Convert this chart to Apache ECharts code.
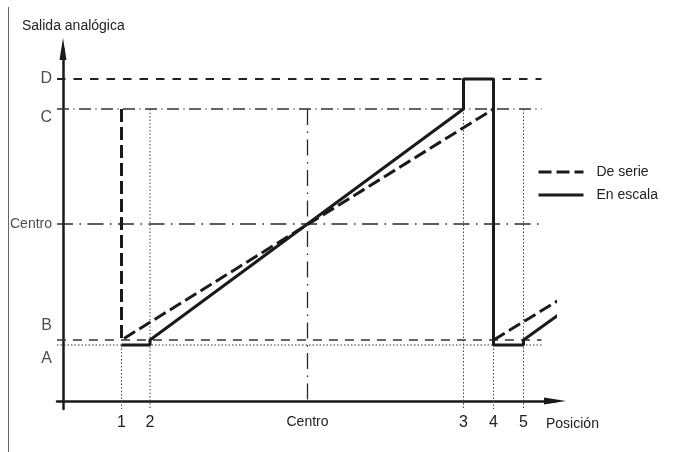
<!DOCTYPE html>
<html>
<head>
<meta charset="utf-8">
<script src="https://cdn.jsdelivr.net/npm/echarts@6/dist/echarts.min.js"></script>
<style>
html, body { margin: 0; padding: 0; background: #ffffff; }
#chart { width: 682px; height: 452px; }
</style>
</head>
<body>
<div id="chart"></div>
<script>
// ---- data ----
const positionNames = ['1', '2', 'Centro', '3', '4', '5'];
const positionValues = [1.95, 2.9, 8.15, 13.35, 14.35, 15.35];
const guideTops = [5.6, 29.2, 29.2, 29.2, 5.6, 29.2];
const levelNames = ['A', 'B', 'Centro', 'C', 'D'];
const levelValues = [5.6, 6.1, 17.7, 29.2, 32.2];
const deSerieX = [1.95, 1.95, 14.35, 14.35, 16.7];
const deSerieY = [29.2, 6.1, 29.2, 6.1, 10.4];
const enEscalaX = [1.95, 2.9, 2.9, 13.35, 13.35, 14.35, 14.35, 15.35, 15.35, 16.65];
const enEscalaY = [5.6, 5.6, 6.1, 29.2, 32.2, 32.2, 5.6, 5.6, 6.1, 8.9];
const levelLineX = [-0.2, 15.95];
const guideBottom = -0.8;
const centroBottom = -0.2;

// ---- styles ----
const FONT = 'Liberation Sans, Arial, Helvetica, sans-serif';
const INK = '#1a1a1a';
const TEXT = '#222222';
const levelStyles = {
  A: { type: [1.5, 2], width: 1, color: '#333' },
  B: { type: [9, 7], width: 1.3, color: '#333' },
  Centro: { type: [16, 6.5, 1.5, 6.5], width: 1.3, color: '#2a2a2a' },
  C: { type: [12, 4.5, 1, 4.5], width: 1.3, color: '#333' },
  D: { type: [8.5, 8], width: 2, color: '#222' }
};
const guideStyle = { type: [1.5, 2], width: 1, color: '#444' };
const centroGuideStyle = { type: [16, 6.5, 1.5, 6.5], width: 1.3, color: '#2a2a2a' };
const levelLabelOffsets = { A: 14, B: -14, Centro: 0, C: 9, D: 0 };

function segment(x1, y1, x2, y2, style) {
  return {
    type: 'line',
    data: [[x1, y1], [x2, y2]],
    symbol: 'none',
    silent: true,
    clip: false,
    z: 1,
    lineStyle: style,
    tooltip: { show: false }
  };
}

const series = [];
levelValues.forEach(function (v, i) {
  series.push(segment(levelLineX[0], v, levelLineX[1], v, levelStyles[levelNames[i]]));
});
positionValues.forEach(function (x, i) {
  const isCentro = positionNames[i] === 'Centro';
  series.push(segment(x, guideTops[i], x, isCentro ? centroBottom : guideBottom,
    isCentro ? centroGuideStyle : guideStyle));
});

series.push({
  name: 'De serie',
  type: 'line',
  data: deSerieX.map(function (x, i) { return [x, deSerieY[i]]; }),
  symbol: 'none',
  clip: false,
  z: 5,
  itemStyle: { color: INK },
  lineStyle: { type: [13, 5], width: 3, color: INK }
});
series.push({
  name: 'En escala',
  type: 'line',
  data: enEscalaX.map(function (x, i) { return [x, enEscalaY[i]]; }),
  symbol: 'none',
  clip: false,
  z: 6,
  itemStyle: { color: INK },
  lineStyle: { type: 'solid', width: 3, color: INK }
});

series.push({
  type: 'scatter',
  silent: true,
  clip: false,
  symbolSize: 0,
  z: 7,
  data: levelValues.map(function (v, i) {
    const n = levelNames[i];
    return {
      value: [levelLineX[0], v],
      name: n,
      label: { offset: [0, levelLabelOffsets[n]], fontSize: n === 'Centro' ? 14 : 16 }
    };
  }),
  label: {
    show: true,
    position: 'left',
    distance: 5,
    formatter: '{b}',
    color: TEXT,
    fontFamily: FONT
  }
});

const chart = echarts.init(document.getElementById('chart'), null, { renderer: 'canvas' });
chart.setOption({
  animation: false,
  backgroundColor: '#ffffff',
  textStyle: { fontFamily: FONT },
  title: [
    { text: 'Salida analógica', left: 22, top: 19, padding: 0,
      textStyle: { fontSize: 14, fontWeight: 'normal', color: TEXT, fontFamily: FONT } },
    { text: 'Posición', left: 546, top: 417, padding: 0,
      textStyle: { fontSize: 14, fontWeight: 'normal', color: TEXT, fontFamily: FONT } }
  ],
  legend: {
    data: ['De serie', 'En escala'],
    orient: 'vertical',
    left: 537,
    top: 165,
    padding: 0,
    itemWidth: 45,
    itemHeight: 14,
    itemGap: 9,
    itemStyle: { opacity: 0, borderWidth: 0 },
    lineStyle: { width: 3 },
    textStyle: { fontSize: 14, color: TEXT, fontFamily: FONT, padding: [0, 0, 0, 8] }
  },
  grid: { left: 57, right: 127, top: 49, bottom: 43, containLabel: false },
  xAxis: {
    type: 'value',
    min: -0.2,
    max: 16.4,
    axisLine: {
      show: true, onZero: true,
      symbol: ['none', 'triangle'], symbolSize: [7, 22],
      lineStyle: { color: INK, width: 2.5 }
    },
    axisTick: { show: false },
    splitLine: { show: false },
    axisLabel: {
      show: true,
      customValues: positionValues,
      margin: 6,
      color: TEXT,
      formatter: function (v) {
        for (let i = 0; i < positionValues.length; i++) {
          if (Math.abs(positionValues[i] - v) < 1e-6) {
            return positionNames[i] === 'Centro' ? '{s|Centro}' : '{n|' + positionNames[i] + '}';
          }
        }
        return '';
      },
      rich: {
        n: { fontSize: 16, color: TEXT, fontFamily: FONT },
        s: { fontSize: 14, color: TEXT, fontFamily: FONT }
      }
    }
  },
  yAxis: {
    type: 'value',
    min: guideBottom,
    max: 35.2,
    axisLine: {
      show: true, onZero: true,
      symbol: ['none', 'triangle'], symbolSize: [7, 22],
      lineStyle: { color: INK, width: 2.5 }
    },
    axisTick: { show: false },
    splitLine: { show: false },
    axisLabel: { show: false }
  },
  graphic: [
    { type: 'line', silent: true, shape: { x1: 8.5, y1: 7, x2: 8.5, y2: 452 },
      style: { stroke: '#666', lineWidth: 1 } }
  ],
  series: series
});
</script>
</body>
</html>
